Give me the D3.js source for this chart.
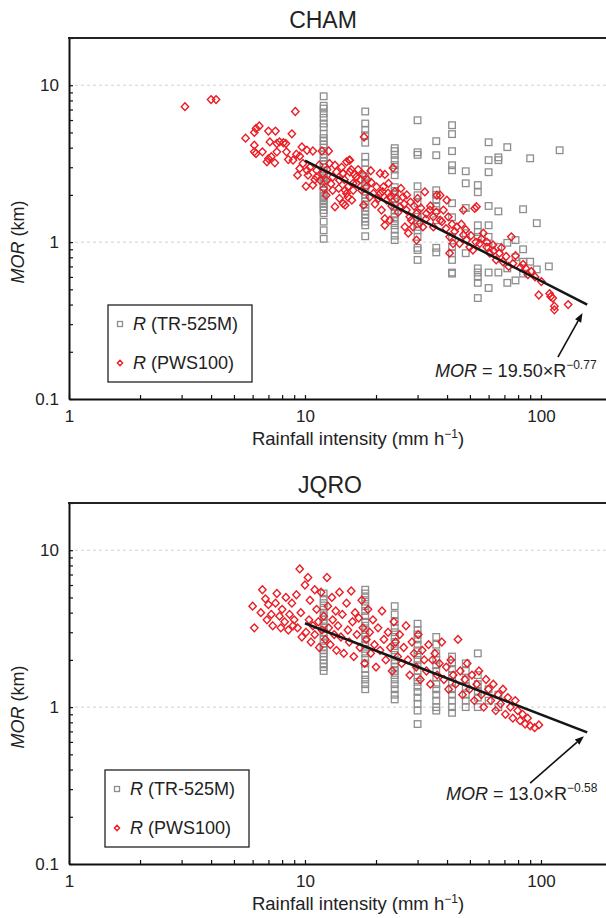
<!DOCTYPE html>
<meta charset="utf-8">
<style>
body { margin: 0; background: #fff; }
svg { display: block; font-family: "Liberation Sans", Arial, sans-serif; }
.grid line { stroke: #d2d2d2; stroke-dasharray: 3,3; stroke-width: 1; }
.axis path { stroke: #111; stroke-width: 2; }
.axis line { stroke: #111; stroke-width: 1.2; }
.axis text { font-size: 17px; fill: #222; font-family: "Liberation Sans", Arial, sans-serif; }
.tr { fill: none; stroke: #8e8e8e; stroke-width: 1.3; }
.pws { fill: none; stroke: #ec1c24; stroke-width: 1.4; }
.fit { fill: none; stroke: #161616; stroke-width: 2.6; }
</style>
<svg width="606" height="918"></svg>
<script src="https://d3js.org/d3.v7.min.js"></script>
<script>
// axis settings
var xDomain = [1, 200];
var yDomain = [0.1, 20];
var xMajor = [1, 10, 100];
var yMajor = [0.1, 1, 10];

// CHAM, TR-525M: rain rate columns and the MOR values in each
var chamTR = [
  [12, [8.5, 7.4, 7.1, 6.6, 6.2, 5.7, 5.4, 4.9, 4.6, 4.4, 4.2, 4.0, 3.8, 3.6, 3.45, 3.3, 3.15, 3.0, 2.85, 2.75, 2.65, 2.55, 2.45, 2.35, 2.25, 2.15, 2.05, 1.97, 1.9, 1.82, 1.75, 1.68, 1.6, 1.53, 1.35, 1.19, 1.05]],
  [18, [6.8, 5.7, 5.2, 4.8, 4.3, 3.5, 3.2, 2.9, 2.6, 2.5, 2.4, 2.3, 2.2, 2.1, 2.0, 1.9, 1.82, 1.74, 1.66, 1.58, 1.5, 1.42, 1.35, 1.28, 1.09]],
  [24, [3.97, 3.8, 3.6, 3.33, 3.1, 2.9, 2.67, 2.24, 2.12, 2.0, 1.9, 1.8, 1.7, 1.6, 1.52, 1.44, 1.36, 1.28, 1.2, 1.1, 1.03]],
  [30, [5.98, 3.74, 3.6, 2.27, 1.99, 1.77, 1.53, 1.45, 1.38, 1.3, 1.25, 1.19, 1.08, 0.92, 0.89, 0.77]],
  [36, [4.4, 3.58, 2.14, 2.0, 1.85, 1.7, 1.6, 1.38, 0.92, 0.86]],
  [42, [5.56, 4.88, 3.8, 3.09, 2.87, 1.77, 1.44, 1.08, 0.93, 0.85, 0.77, 0.64, 0.63]],
  [48, [2.83, 2.37, 1.65, 1.14, 0.85]],
  [54, [2.31, 2.08, 1.28, 1.16, 1.08, 0.68, 0.64, 0.6, 0.55, 0.44]],
  [60, [4.33, 3.33, 2.79, 1.7, 1.28, 1.08, 0.93, 0.64, 0.51]],
  [66, [3.47, 3.33, 1.57, 0.93, 0.64]],
  [72, [4.03, 0.99, 0.68, 0.55]],
  [78, [1.03, 0.8, 0.57]],
  [84, [1.62, 0.9, 0.75, 0.63]],
  [90, [3.42, 0.75]],
  [96, [1.32, 0.67]],
  [108, [0.7]],
  [120, [3.85]]
];

// CHAM, PWS100: [rain rate, MOR]
var chamPWS = [
  [3.1,7.3],[4.0,8.1],[4.2,8.1],[9.1,6.8],
  [5.6,4.6],[6.1,5.0],[6.2,5.3],[6.4,5.5],[7.0,5.1],[7.5,5.1],
  [6.1,4.15],[6.1,3.76],[6.2,3.67],[6.6,3.76],[7.1,4.35],[7.6,4.25],[7.8,4.35],[8.1,4.3],[8.3,4.25],[8.8,4.9],
  [6.9,3.25],[7.0,3.4],[7.2,3.5],[7.45,3.2],[7.6,3.76],
  [8.35,3.76],[8.5,3.36],[8.9,3.33],[9.2,3.63],[9.5,3.53],
  [9.7,4.04],[10.2,3.85],[10.8,3.81],
  [9.3,2.67],[9.5,2.95],[9.8,3.17],[10.2,2.87],[10.3,2.67],
  [11.8,3.81],[12.6,3.81],
  [10.1,2.27],[10.8,2.31],[11.6,2.48],[11.2,2.6],[11.9,2.74],
  [12.7,3.17],[13.4,3.09],[15.0,3.25],[15.5,3.33],
  [13.4,1.68],[14.8,1.72],[15.8,1.85],
  [12.3,1.99],[13.1,2.14],[14.0,1.9],[15.0,2.04],[16.0,2.14],
  [11.2,2.87],[12.3,2.48],[13.1,2.6],[14.0,2.48],[14.5,2.74],[16.0,2.37],[16.5,2.6],
  [15.4,3.33],[15.5,2.8],[14.5,2.74],[14.8,2.14],[15.2,1.94],[14.5,1.76],
  [17.8,4.68],[23.6,2.97],
  [16.5,2.37],[17.4,2.14],[18.2,2.25],[17.7,1.72],[18.8,1.94],[19.5,2.04],[20.1,2.25],
  [20.8,2.74],[21.8,2.7],[22.6,2.37],[21.5,2.25],[20.8,2.04],[22.2,1.85],[21.1,1.6],[21.8,1.28],[22.9,1.38],[21.8,1.41],
  [22.9,1.94],[24.5,1.9],[25.3,1.68],[26.0,1.94],[26.9,1.6],[27.8,1.45],[26.5,1.25],[27.4,1.14],[28.2,1.38],[28.7,1.25],[29.7,1.03],
  [29.7,1.52],[30.7,1.32],[31.6,1.25],[32.2,2.09],[32.7,1.52],[33.8,1.6],[35.0,1.45],[36.2,1.99],[37.4,1.99],[38.6,1.6],[37.4,1.38],[35.0,1.25],
  [39.9,1.85],[39.6,1.22],[41.0,1.08],[41.0,0.85],[42.4,0.98],[43.1,1.17],[45.2,0.98],[46.9,1.11],[48.4,1.03],[49.9,0.93],[51.5,0.89],[52.4,1.64],[53.3,1.68],[46.9,1.6],
  [55.0,0.98],[57.0,1.14],[58.9,0.93],[60.7,0.85],[62.6,0.96],[64.6,0.77],[66.7,0.85],[69.0,0.75],[71.2,0.81],[74.9,1.08],[76.1,0.73],[81.8,0.69],[86.2,0.68],[91.0,0.65],[94.4,0.6],
  [97.9,0.46],[100.4,0.56],[108.8,0.47],[110,0.45],[112.2,0.44],[114.0,0.39],[114,0.37],[130.4,0.4],
  [10.5,3.0],[11.0,2.5],[11.5,3.1],[12.0,2.2],[12.4,2.9],[12.9,2.35],[13.6,2.8],[13.9,2.2],[14.3,3.0],[14.7,2.5],
  [15.2,2.25],[15.7,2.9],[16.2,2.7],[16.8,2.9],[17.2,2.5],[17.6,2.7],[18.4,2.5],[19.1,2.4],[19.8,1.75],[19.0,2.85],
  [20.5,1.9],[21.3,2.1],[22.5,2.05],[23.3,1.7],[24.0,2.1],[24.8,1.55],[25.5,2.2],[26.3,1.75],[27.0,2.0],[28.0,1.8],
  [29.0,1.7],[30.0,1.9],[31.0,1.65],[32.5,1.4],[34.0,1.7],[36.0,1.55],[38.0,1.35],[40.5,1.45],[42.0,1.3],[44.0,1.25],
  [46.0,1.3],[48.0,1.2],[50.5,1.1],[53.0,1.0],[56.0,1.05],[59.0,1.0],[63.0,0.88],[68.0,0.92],[73.0,0.7],[78.0,0.82],[84.0,0.72],[88.0,0.62]
];

// JQRO, TR-525M
var jqroTR = [
  [12, [5.3, 4.9, 4.6, 4.3, 4.0, 3.8, 3.6, 3.4, 3.2, 3.0, 2.85, 2.7, 2.55, 2.4, 2.3, 2.2, 2.1, 2.0, 1.9, 1.8, 1.7]],
  [18, [5.6, 5.3, 5.0, 4.7, 4.4, 4.1, 3.8, 3.5, 3.3, 3.1, 2.9, 2.7, 2.5, 2.35, 2.2, 2.05, 1.9, 1.75, 1.6, 1.5, 1.4, 1.3]],
  [24, [4.4, 3.9, 3.5, 3.2, 3.0, 2.8, 2.6, 2.45, 2.3, 2.15, 2.0, 1.9, 1.8, 1.7, 1.6, 1.5, 1.4, 1.3, 1.2, 1.12]],
  [30, [3.4, 3.1, 2.9, 2.7, 2.5, 2.3, 2.15, 2.0, 1.85, 1.7, 1.55, 1.45, 1.35, 1.25, 1.15, 1.05, 0.95, 0.78]],
  [36, [2.8, 2.5, 2.2, 2.0, 1.85, 1.7, 1.55, 1.4, 1.3, 1.2, 1.1, 1.0, 0.95]],
  [42, [2.1, 1.9, 1.75, 1.6, 1.45, 1.3, 1.2, 1.1, 1.0, 0.92]],
  [48, [1.9, 1.7, 1.5, 1.35, 1.2, 1.1, 1.0]],
  [54, [2.2, 1.6, 1.4, 1.25, 1.15, 1.0]],
  [60, [1.3, 1.1]],
  [66, [1.2, 1.0]]
];

// JQRO, PWS100
var jqroPWS = [
  [6.0,4.4],[6.1,3.2],[6.5,4.0],[6.6,5.6],[6.8,4.9],[6.9,3.6],[7.0,4.5],[7.2,3.9],[7.3,3.3],[7.5,4.6],[7.6,5.3],
  [7.8,3.8],[7.9,3.2],[8.0,4.2],[8.2,3.5],[8.3,5.0],[8.5,3.1],[8.6,3.9],[8.8,4.6],[8.9,3.3],[9.0,3.6],[9.2,5.2],
  [9.3,3.2],[9.5,7.6],[9.6,4.0],[9.7,2.8],
  [10.0,6.0],[10.1,3.0],[10.3,6.7],[10.4,3.6],[10.5,4.8],[10.6,2.6],[10.8,3.3],[11.0,5.6],[11.0,2.9],[11.2,4.2],
  [11.4,3.5],[11.5,2.4],[11.7,5.4],[11.8,3.1],[12.0,3.8],[12.2,2.7],[12.4,6.7],[12.5,4.4],[12.6,3.2],[12.8,2.5],
  [13.0,5.0],[13.1,3.6],[13.3,2.9],[13.5,4.1],[13.6,2.3],[13.8,3.3],[14.0,5.4],[14.2,2.8],[14.4,3.9],[14.6,2.2],
  [15.0,4.6],[15.2,3.1],[15.4,2.6],[15.7,5.5],[15.9,3.5],[16.1,2.1],[16.3,4.0],[16.6,2.9],[16.9,3.7],[17.1,2.4],
  [17.4,4.8],[17.6,3.2],[17.9,1.9],[18.2,2.7],[18.5,4.2],[18.8,3.0],[19.0,2.2],[19.4,3.6],[19.7,2.5],[20.0,1.8],
  [20.4,3.2],[20.8,2.3],[21.2,4.1],[21.6,2.7],[22.0,2.0],
  [22.5,3.0],[23.0,2.4],[23.4,1.7],[23.8,3.5],[24.2,2.6],[24.7,2.1],[25.2,2.9],[25.7,1.9],[26.2,2.4],[26.8,3.3],
  [27.3,2.0],[27.8,1.6],[28.4,2.6],[29.0,2.2],[29.6,1.8],[30.2,2.9],[30.8,1.5],[31.4,2.3],[32.0,2.0],[32.7,1.7],
  [33.4,2.5],[34.0,1.4],[34.7,2.0],
  [35.5,2.2],[36.3,1.6],[37.1,1.9],[38.0,2.6],[38.8,1.5],[39.7,1.8],[40.6,1.3],[41.5,2.0],[42.5,1.6],[43.5,1.4],
  [44.5,2.7],[45.5,1.7],[46.5,1.2],[47.6,1.5],[48.7,1.9],[49.8,1.3],[51.0,1.6],[52.2,1.1],[53.4,1.4],[54.6,1.7],
  [55.9,1.2],[57.2,1.0],[58.5,1.5],[59.9,1.3],
  [61.3,1.1],[62.8,1.4],[64.3,0.95],[65.8,1.2],[67.4,1.05],[69.0,1.3],[70.7,0.9],[72.4,1.15],[74.2,1.0],[76.0,0.85],
  [77.8,1.1],[79.7,0.95],[81.6,0.82],[83.6,0.9],[85.7,0.78],[87.8,0.85],[90.0,0.76],[94.0,0.74],[98.0,0.77]
];

// regression lines (end points) and the arrow/label anchors, in data units
var chamFit = [[10, 3.31], [157, 0.40]];
var jqroFit = [[10, 3.42], [157, 0.69]];
var chamArrow = [[118, 0.185], [150, 0.353]];
var jqroArrow = [[90, 0.328], [152, 0.653]];

var panels = [
  {name: "CHAM", top: 38, titleX: 323, tr: chamTR, pws: chamPWS, fit: chamFit, arrow: chamArrow,
   coef: "19.50", expo: "\u22120.77", eqAt: [35.6, 0.138], legendX: 108},
  {name: "JQRO", top: 503, titleX: 330, tr: jqroTR, pws: jqroPWS, fit: jqroFit, arrow: jqroArrow,
   coef: "13.0", expo: "\u22120.58", eqAt: [39.6, 0.256], legendX: 105}
];

var svg = d3.select("svg");
var plotH = 361;
var left = 69, right = 612;

panels.forEach(function(p) {
  var x = d3.scaleLog().domain(xDomain).range([left, right]);
  var y = d3.scaleLog().domain(yDomain).range([p.top + plotH, p.top]);
  var g = svg.append("g");

  // dashed grid at the decades
  g.append("g").attr("class", "grid").selectAll("line")
    .data(yMajor.slice(1)).enter().append("line")
    .attr("x1", left).attr("x2", right)
    .attr("y1", function(d) { return y(d); }).attr("y2", function(d) { return y(d); });

  // gray squares
  var trPts = [];
  p.tr.forEach(function(c) { c[1].forEach(function(m) { trPts.push([c[0], m]); }); });
  g.append("g").selectAll("rect").data(trPts).enter().append("rect")
    .attr("class", "tr")
    .attr("x", function(d) { return x(d[0]) - 3.3; })
    .attr("y", function(d) { return y(d[1]) - 3.3; })
    .attr("width", 6.6).attr("height", 6.6);

  // red diamonds
  g.append("g").selectAll("path").data(p.pws).enter().append("path")
    .attr("class", "pws")
    .attr("d", "M0,-3.9L3.7,0L0,3.9L-3.7,0Z")
    .attr("transform", function(d) { return "translate(" + x(d[0]) + "," + y(d[1]) + ")"; });

  // fit line
  g.append("path").datum(p.fit).attr("class", "fit")
    .attr("d", d3.line().x(function(d) { return x(d[0]); }).y(function(d) { return y(d[1]); }));

  // axes
  var xAxis = d3.axisBottom(x).tickValues(x.ticks()).tickSizeInner(-4).tickSizeOuter(0).tickPadding(11)
    .tickFormat(function(d) { return xMajor.indexOf(d) >= 0 ? d : ""; });
  g.append("g").attr("class", "axis").attr("transform", "translate(0," + (p.top + plotH) + ")").call(xAxis);

  var yAxis = d3.axisLeft(y).tickValues(y.ticks()).tickSizeInner(-4).tickSizeOuter(0).tickPadding(10)
    .tickFormat(function(d) { return yMajor.indexOf(d) >= 0 ? d : ""; });
  g.append("g").attr("class", "axis").attr("transform", "translate(" + left + ",0)").call(yAxis);

  // top frame
  g.append("line").attr("x1", left - 1).attr("x2", right).attr("y1", p.top).attr("y2", p.top)
    .attr("stroke", "#222").attr("stroke-width", 2);

  // title
  g.append("text").attr("x", p.titleX).attr("y", p.top - 10).attr("text-anchor", "middle")
    .attr("font-size", 23).attr("fill", "#222").text(p.name);

  // axis titles
  var xt = g.append("text").attr("x", 358).attr("y", p.top + plotH + 46).attr("text-anchor", "middle")
    .attr("font-size", 18.5).attr("fill", "#222");
  xt.append("tspan").text("Rainfall intensity (mm h");
  xt.append("tspan").attr("font-size", 12).attr("dy", -7).text("\u22121");
  xt.append("tspan").attr("dy", 7).text(")");

  var yt = g.append("text").attr("transform", "translate(24," + (p.top + 204) + ") rotate(-90)")
    .attr("text-anchor", "middle").attr("font-size", 18).attr("fill", "#222");
  yt.append("tspan").attr("font-style", "italic").text("MOR");
  yt.append("tspan").text(" (km)");

  // legend
  var lx = p.legendX, ly = p.top + 267;
  var lg = g.append("g");
  lg.append("rect").attr("x", lx).attr("y", ly).attr("width", 144).attr("height", 77)
    .attr("fill", "#fff").attr("stroke", "#222").attr("stroke-width", 1.3);
  lg.append("rect").attr("class", "tr").attr("x", lx + 9.5).attr("y", ly + 16.5).attr("width", 5).attr("height", 5);
  lg.append("path").attr("class", "pws").attr("d", "M0,-2.8L2.6,0L0,2.8L-2.6,0Z")
    .attr("transform", "translate(" + (lx + 12) + "," + (ly + 58) + ")");
  [["(TR-525M)", 25], ["(PWS100)", 64]].forEach(function(e) {
    var t = lg.append("text").attr("x", lx + 25).attr("y", ly + e[1]).attr("font-size", 18).attr("fill", "#222");
    t.append("tspan").attr("font-style", "italic").text("R");
    t.append("tspan").text(" " + e[0]);
  });

  // equation and arrow
  var eq = g.append("text").attr("x", x(p.eqAt[0])).attr("y", y(p.eqAt[1]))
    .attr("font-size", 18).attr("fill", "#222");
  eq.append("tspan").attr("font-style", "italic").text("MOR");
  eq.append("tspan").text(" = " + p.coef + "\u00d7R");
  eq.append("tspan").attr("font-size", 12).attr("dy", -8).text(p.expo);

  var a0 = [x(p.arrow[0][0]), y(p.arrow[0][1])], a1 = [x(p.arrow[1][0]), y(p.arrow[1][1])];
  var ang = Math.atan2(a1[1] - a0[1], a1[0] - a0[0]);
  var hl = 9, hw = 3.5;
  var bx = a1[0] - hl * Math.cos(ang), by = a1[1] - hl * Math.sin(ang);
  g.append("line").attr("x1", a0[0]).attr("y1", a0[1]).attr("x2", bx).attr("y2", by)
    .attr("stroke", "#111").attr("stroke-width", 1.6);
  g.append("path").attr("fill", "#111")
    .attr("d", "M" + a1[0] + "," + a1[1] +
      "L" + (bx + hw * Math.sin(ang)) + "," + (by - hw * Math.cos(ang)) +
      "L" + (bx - hw * Math.sin(ang)) + "," + (by + hw * Math.cos(ang)) + "Z");
});
</script>
